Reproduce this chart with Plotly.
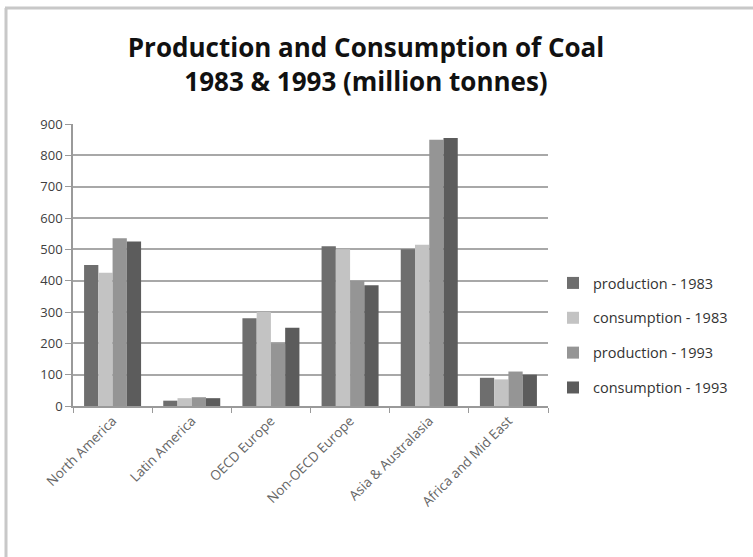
import plotly.graph_objects as go

categories = ["North America", "Latin America", "OECD Europe", "Non-OECD Europe",
              "Asia & Australasia", "Africa and Mid East"]
series_names = ["production - 1983", "consumption - 1983", "production - 1993", "consumption - 1993"]
production_1983 = [450, 17, 280, 510, 500, 90]
consumption_1983 = [425, 25, 300, 500, 515, 85]
production_1993 = [535, 28, 200, 400, 850, 110]
consumption_1993 = [525, 25, 250, 385, 855, 100]
y_ticks = [0, 100, 200, 300, 400, 500, 600, 700, 800, 900]

colors = ["#6e6e6e", "#c3c3c3", "#959595", "#5c5c5c"]
values = [production_1983, consumption_1983, production_1993, consumption_1993]

fig = go.Figure()
for i, (name, vals) in enumerate(zip(series_names, values)):
    fig.add_trace(go.Bar(x=categories, y=vals, name=name, marker_color=colors[i],
                         marker_line_width=0, legendgroup=name))

W, H = 753, 557
ml, mr, mt, mb = 73, 205, 124, 151
pw, ph = W - ml - mr, H - mt - mb

fig.update_layout(
    width=W, height=H,
    margin=dict(l=ml, r=mr, t=mt, b=mb),
    paper_bgcolor="white", plot_bgcolor="white",
    barmode="group", bargap=0.28, bargroupgap=0,
    font=dict(family="Open Sans", color="#404040"),
    title=dict(text="<b>Production and Consumption of Coal<br>1983 & 1993 (million tonnes)</b>",
               x=366 / W, xanchor="center", y=1 - 57 / H, yanchor="middle",
               font=dict(size=26, color="#111111")),
    legend=dict(x=1 + (553 - (W - mr)) / pw, y=1 - (267 - mt) / ph, xanchor="left", yanchor="top",
                font=dict(size=14.5, color="#333333"), tracegroupgap=13, itemwidth=30,
                bgcolor="rgba(0,0,0,0)"),
    showlegend=True,
)
fig.update_yaxes(range=[0, 900], tickvals=y_ticks, showgrid=True, gridcolor="#a8a8a8", gridwidth=1.5,
                 showline=True, linecolor="#9a9a9a", linewidth=1.5, ticks="outside", ticklen=6,
                 tickcolor="#9a9a9a", tickfont=dict(size=13, color="#404040"), zeroline=False)
fig.update_xaxes(showline=True, linecolor="#9a9a9a", linewidth=1.5, ticks="outside", tickson="boundaries",
                 ticklen=5, tickcolor="#9a9a9a", tickangle=-45, tickfont=dict(size=13.5, color="#666666"),
                 showgrid=False)

# outer chart border (top and left)
fig.add_shape(type="line", xref="paper", yref="paper",
              x0=(5 - ml) / pw, x1=(W - ml) / pw, y0=1 + (mt - 8) / ph, y1=1 + (mt - 8) / ph,
              line=dict(color="#c8c8c8", width=3))
fig.add_shape(type="line", xref="paper", yref="paper",
              x0=(6 - ml) / pw, x1=(6 - ml) / pw, y0=1 + (mt - 8) / ph, y1=-(mb) / ph,
              line=dict(color="#c8c8c8", width=3))

fig.write_html("out.html")
